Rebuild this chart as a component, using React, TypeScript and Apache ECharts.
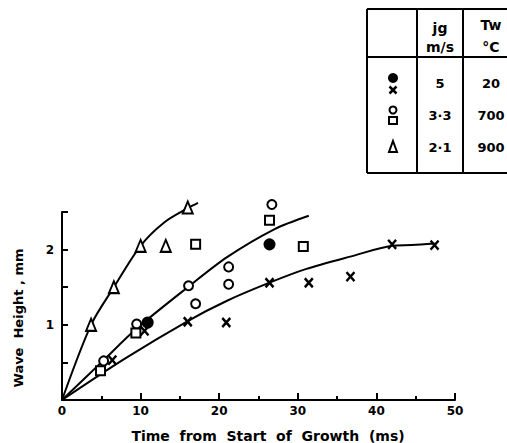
import React, { useEffect, useRef } from "react";
import * as echarts from "echarts";

// Measured points (time ms, wave height mm)
const filledCircle = [[10.9, 1.03], [26.4, 2.07]];
const crosses = [[6.4, 0.53], [10.5, 0.92], [16.0, 1.04], [20.9, 1.03], [26.4, 1.56], [31.4, 1.56], [36.7, 1.64], [42.0, 2.07], [47.4, 2.06]];
const openCircles = [[5.3, 0.52], [9.5, 1.01], [16.1, 1.52], [17.0, 1.28], [21.2, 1.77], [21.2, 1.54], [26.7, 2.6]];
const squares = [[4.9, 0.39], [9.4, 0.89], [17.0, 2.07], [26.4, 2.39], [30.7, 2.04]];
const triangles = [[3.7, 1.0], [6.6, 1.5], [10.0, 2.05], [13.2, 2.05], [16.0, 2.56]];

// Hand-drawn fitted curves
const triCurve = [[0, 0], [3.7, 1.0], [6.6, 1.5], [10, 2.05], [13, 2.36], [16, 2.55], [17.3, 2.62]];
const midCurve = [[0, 0], [5, 0.5], [9.5, 0.95], [16, 1.5], [21, 1.9], [27, 2.27], [31.4, 2.45]];
const lowCurve = [[0, 0], [8, 0.55], [16, 1.05], [21, 1.32], [26.4, 1.56], [31, 1.74], [36.8, 1.91], [42, 2.05], [44.5, 2.06], [47.4, 2.08]];

// Table contents
const tableHeadJg = ["jg", "m/s"];
const tableHeadTw = ["Tw", "°C"];
const tableJg = ["5", "3·3", "2·1"];
const tableTw = ["20", "700", "900"];

const xTicks = [0, 10, 20, 30, 40, 50];

const FONT = "DejaVu Sans";
const CROSS = "path://M0,0L10,10M10,0L0,10";

export default function App() {
  const ref = useRef<HTMLDivElement>(null);
  useEffect(() => {
    document.body.style.margin = "0";
    const chart = echarts.init(ref.current!, null, { renderer: "svg" });
    const lineStyle = { color: "#000", width: 2 };
    const curve = (data: number[][]) => ({
      type: "line",
      data,
      smooth: 0.3,
      showSymbol: false,
      symbol: "none",
      lineStyle,
      clip: false,
      z: 2,
      silent: true,
    });
    const scat = (data: number[][], symbol: string, size: any, fill: string, bw = 2) => ({
      type: "scatter",
      data,
      symbol,
      symbolSize: size,
      clip: false,
      itemStyle: { color: fill, borderColor: "#000", borderWidth: bw, opacity: 1 },
      z: 3,
      silent: true,
    });
    const ln = (x1: number, y1: number, x2: number, y2: number, w = 2) => ({
      type: "line",
      shape: { x1, y1, x2, y2 },
      style: { stroke: "#000", lineWidth: w },
    });
    const txt = (x: number, y: number, text: string, size = 13) => ({
      type: "text",
      x,
      y,
      style: { text, fill: "#000", font: `bold ${size}px "${FONT}"`, align: "center", verticalAlign: "middle" },
    });
    const mx = 393;
    chart.setOption({
      animation: false,
      backgroundColor: "#fff",
      grid: { left: 62, right: 52, top: 212, bottom: 43, containLabel: false },
      xAxis: {
        type: "value",
        min: 0,
        max: 50,
        interval: 10,
        splitLine: { show: false },
        axisLine: { show: true, onZero: false, lineStyle: { color: "#000", width: 2 } },
        axisTick: { show: true, inside: true, length: 7, lineStyle: { color: "#000", width: 2 } },
        minorTick: { show: true, splitNumber: 2, length: 4, lineStyle: { color: "#000", width: 2 } },
        axisLabel: {
          color: "#000",
          fontFamily: FONT,
          fontWeight: "bold",
          fontSize: 12,
          margin: 5,
          formatter: (v: number) => (xTicks.includes(v) ? String(v) : ""),
        },
      },
      yAxis: {
        type: "value",
        min: 0,
        max: 2.5,
        interval: 0.5,
        splitLine: { show: false },
        axisLine: { show: true, onZero: false, lineStyle: { color: "#000", width: 2 } },
        axisTick: { show: true, inside: true, length: 6, lineStyle: { color: "#000", width: 2 } },
        axisLabel: {
          color: "#000",
          fontFamily: FONT,
          fontWeight: "bold",
          fontSize: 12,
          margin: 8,
          formatter: (v: number) => (v === 1 || v === 2 ? String(v) : ""),
        },
      },
      series: [
        curve(triCurve),
        curve(midCurve),
        curve(lowCurve),
        scat(crosses, CROSS, [8, 9], "none", 2.5),
        scat(openCircles, "circle", 9, "#fff"),
        scat(squares, "rect", 9, "#fff"),
        scat(filledCircle, "circle", 10, "#000"),
        scat(triangles, "triangle", [10, 12], "#fff"),
      ],
      graphic: [
        {
          type: "text",
          x: 18,
          y: 318,
          rotation: Math.PI / 2,
          style: { text: "Wave  Height , mm", fill: "#000", font: `bold 13px "${FONT}"`, align: "center", verticalAlign: "middle" },
        },
        {
          type: "text",
          x: 268,
          y: 436,
          style: { text: "Time  from  Start  of  Growth  (ms)", fill: "#000", font: `bold 14px "${FONT}"`, align: "center", verticalAlign: "middle" },
        },
        ln(367, 9, 507, 9),
        ln(367, 57, 507, 57),
        ln(367, 173, 507, 173),
        ln(367, 9, 367, 173),
        ln(417, 9, 417, 173),
        ln(463, 9, 463, 173),
        txt(440, 28, tableHeadJg[0], 14),
        txt(440, 47, tableHeadJg[1], 14),
        txt(491, 25, tableHeadTw[0], 14),
        txt(491, 47, tableHeadTw[1], 14),
        txt(440, 83, tableJg[0]),
        txt(440, 115, tableJg[1]),
        txt(440, 147, tableJg[2]),
        txt(491, 83, tableTw[0]),
        txt(491, 115, tableTw[1]),
        txt(491, 147, tableTw[2]),
        { type: "circle", shape: { cx: mx, cy: 78, r: 5 }, style: { fill: "#000" } },
        ln(mx - 3.5, 86.5, mx + 3.5, 93.5, 2.5),
        ln(mx + 3.5, 86.5, mx - 3.5, 93.5, 2.5),
        { type: "circle", shape: { cx: mx, cy: 110, r: 3.5 }, style: { fill: "#fff", stroke: "#000", lineWidth: 2 } },
        { type: "rect", shape: { x: mx - 4, y: 117, width: 8, height: 7 }, style: { fill: "#fff", stroke: "#000", lineWidth: 2 } },
        {
          type: "polygon",
          shape: { points: [[mx, 141], [mx + 4, 152], [mx - 4, 152]] },
          style: { fill: "#fff", stroke: "#000", lineWidth: 2 },
        },
      ],
    });
    return () => chart.dispose();
  }, []);
  return <div ref={ref} style={{ width: 507, height: 443 }} />;
}
